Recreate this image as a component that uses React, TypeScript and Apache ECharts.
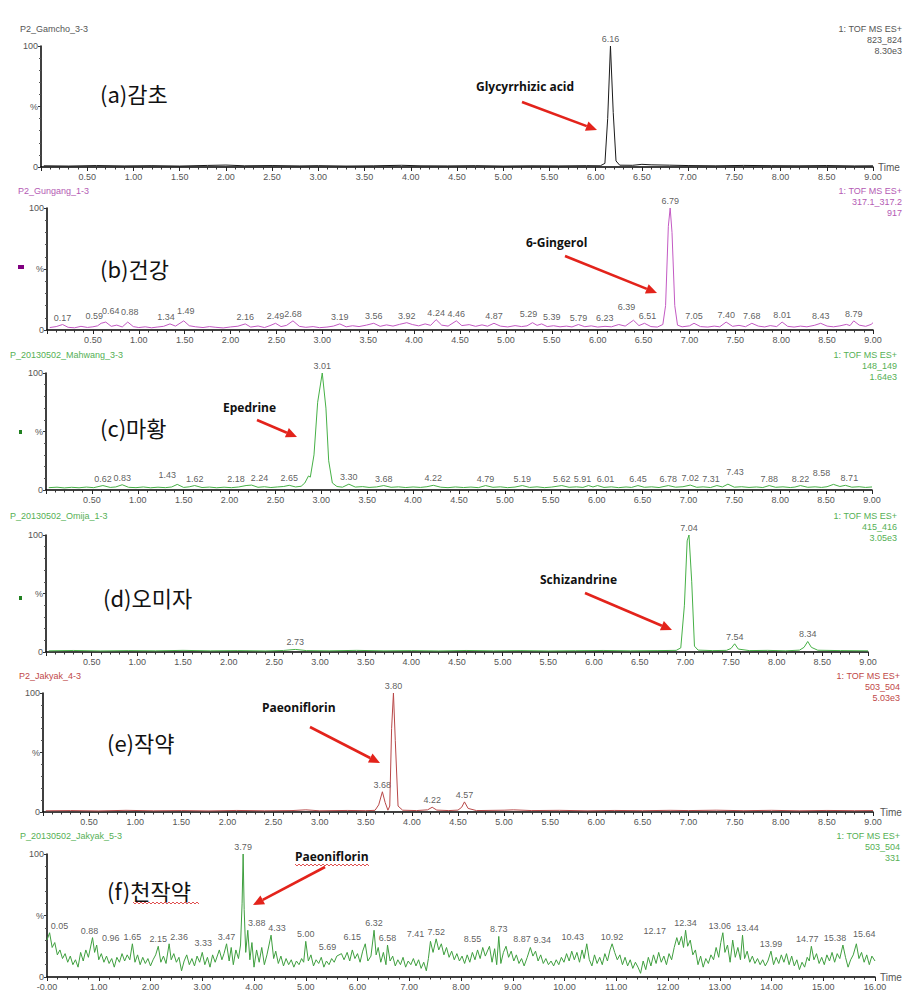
import React, { useEffect, useRef } from "react";
import * as echarts from "echarts";

type P = [number, number];

// ---------- DATA ----------
const gamchoTrace: P[] = [
  [0.03, 1.0], [0.3, 0.8], [0.6, 1.2], [0.9, 0.9], [1.2, 1.1], [1.5, 0.8], [1.8, 1.3], [2.0, 1.6], [2.2, 1.0],
  [2.5, 1.2], [2.8, 0.9], [3.0, 1.1], [3.3, 0.8], [3.6, 1.0], [3.9, 1.4], [4.1, 1.0], [4.4, 0.9], [4.7, 1.1],
  [5.0, 0.8], [5.3, 1.0], [5.6, 0.9], [5.9, 1.1], [6.05, 1.0], [6.1, 3], [6.13, 40], [6.16, 100], [6.19, 45],
  [6.22, 5], [6.26, 1.5], [6.4, 1.4], [6.5, 2.2], [6.6, 1.8], [6.8, 1.5], [7.0, 1.2], [7.3, 1.0], [7.6, 1.3],
  [7.9, 1.1], [8.2, 1.0], [8.5, 1.2], [8.8, 0.9], [9.0, 1.0],
];
const gamchoPeaks = [6.16];

const gungangTrace: P[] = [
  [0.03, 2.0], [0.1, 2.8], [0.17, 4.5], [0.23, 2.2], [0.3, 1.8], [0.37, 3.0], [0.44, 2.1], [0.5, 2.6], [0.55, 3.4],
  [0.59, 5.5], [0.64, 6.5], [0.7, 3.0], [0.76, 4.0], [0.82, 2.5], [0.88, 6.5], [0.94, 2.8], [1.0, 2.0], [1.07, 2.6],
  [1.14, 1.8], [1.2, 2.4], [1.27, 3.0], [1.34, 5.0], [1.4, 3.2], [1.49, 7.5], [1.55, 3.5], [1.62, 2.6], [1.7, 2.0],
  [1.77, 2.8], [1.84, 2.2], [1.92, 1.7], [2.0, 2.5], [2.08, 3.1], [2.16, 5.0], [2.22, 2.4], [2.3, 3.3], [2.37, 2.0],
  [2.43, 3.6], [2.49, 5.5], [2.55, 2.8], [2.61, 3.8], [2.68, 7.5], [2.75, 3.0], [2.82, 2.2], [2.9, 2.8], [2.97, 1.9],
  [3.05, 2.4], [3.12, 3.2], [3.19, 5.0], [3.26, 2.6], [3.33, 3.5], [3.4, 2.8], [3.48, 4.0], [3.56, 5.5], [3.63, 3.0],
  [3.7, 4.2], [3.77, 3.2], [3.84, 4.6], [3.92, 6.0], [3.98, 4.5], [4.05, 3.4], [4.12, 5.0], [4.18, 3.8], [4.24, 8.5],
  [4.3, 4.0], [4.37, 3.2], [4.46, 7.5], [4.52, 3.6], [4.6, 4.4], [4.67, 3.0], [4.74, 4.2], [4.8, 3.1], [4.87, 5.5],
  [4.94, 3.2], [5.02, 2.5], [5.1, 3.6], [5.17, 2.8], [5.23, 3.4], [5.29, 6.0], [5.34, 3.8], [5.39, 5.0], [5.45, 2.8],
  [5.52, 3.5], [5.59, 2.6], [5.66, 3.2], [5.72, 2.5], [5.79, 4.5], [5.86, 2.7], [5.93, 3.4], [6.0, 2.4], [6.08, 3.0],
  [6.15, 2.6], [6.23, 4.5], [6.3, 3.2], [6.39, 8.0], [6.45, 3.6], [6.51, 5.5], [6.58, 2.8], [6.65, 2.4], [6.71, 4.5],
  [6.74, 20], [6.77, 85], [6.79, 100], [6.81, 80], [6.84, 20], [6.87, 4], [6.92, 2.6], [7.0, 3.4], [7.05, 5.5],
  [7.12, 2.8], [7.2, 2.4], [7.27, 3.2], [7.33, 2.6], [7.4, 6.5], [7.47, 3.0], [7.54, 3.8], [7.61, 2.7], [7.68, 5.5],
  [7.75, 3.2], [7.82, 2.5], [7.88, 3.6], [7.95, 2.8], [8.01, 6.5], [8.07, 3.0], [8.14, 2.4], [8.21, 3.2], [8.28, 2.6],
  [8.36, 3.8], [8.43, 5.5], [8.5, 3.2], [8.57, 2.6], [8.64, 3.4], [8.71, 4.6], [8.75, 3.6], [8.79, 7.5], [8.85, 4.0],
  [8.92, 3.0], [8.98, 4.6], [9.0, 6.0],
];
const gungangPeaks = [0.17, 0.59, 0.64, 0.88, 1.34, 1.49, 2.16, 2.49, 2.68, 3.19, 3.56, 3.92, 4.24, 4.46, 4.87,
  5.29, 5.39, 5.79, 6.23, 6.39, 6.51, 6.79, 7.05, 7.4, 7.68, 8.01, 8.43, 8.79];

const mahwangTrace: P[] = [
  [0.03, 2.0], [0.12, 2.4], [0.2, 1.8], [0.28, 2.3], [0.36, 1.9], [0.44, 2.5], [0.52, 2.0], [0.62, 3.8], [0.7, 2.2],
  [0.76, 2.6], [0.83, 4.5], [0.9, 2.3], [0.98, 2.0], [1.06, 2.6], [1.14, 1.9], [1.22, 2.4], [1.3, 2.0], [1.37, 2.6],
  [1.43, 4.8], [1.5, 2.2], [1.56, 2.7], [1.62, 3.8], [1.7, 2.1], [1.78, 2.5], [1.86, 1.9], [1.94, 2.4], [2.02, 2.0],
  [2.1, 2.6], [2.18, 3.8], [2.24, 4.2], [2.31, 2.3], [2.38, 2.8], [2.45, 2.1], [2.52, 2.6], [2.59, 3.0], [2.65, 4.0],
  [2.72, 2.6], [2.78, 3.2], [2.82, 6], [2.86, 12], [2.88, 11], [2.92, 30], [2.96, 75], [3.01, 100], [3.05, 70],
  [3.08, 25], [3.12, 6], [3.17, 3.0], [3.23, 2.4], [3.3, 5.0], [3.37, 2.5], [3.45, 2.9], [3.52, 2.2], [3.6, 2.6],
  [3.68, 3.8], [3.76, 2.3], [3.84, 2.7], [3.92, 2.1], [4.0, 2.6], [4.08, 2.2], [4.15, 2.8], [4.22, 4.0], [4.3, 2.4],
  [4.38, 2.0], [4.46, 2.6], [4.55, 2.1], [4.63, 2.5], [4.71, 2.0], [4.79, 3.8], [4.87, 2.3], [4.95, 2.7], [5.03, 2.0],
  [5.11, 2.5], [5.19, 3.8], [5.27, 2.2], [5.35, 2.7], [5.43, 2.0], [5.51, 2.5], [5.62, 3.8], [5.7, 2.3], [5.78, 2.7],
  [5.85, 2.2], [5.91, 3.8], [5.96, 2.6], [6.01, 3.8], [6.08, 2.2], [6.16, 2.7], [6.24, 2.0], [6.32, 2.6], [6.38, 2.2],
  [6.45, 3.8], [6.52, 2.3], [6.6, 2.7], [6.68, 2.1], [6.78, 3.8], [6.86, 2.4], [6.94, 2.8], [7.02, 4.2], [7.09, 2.3],
  [7.16, 2.7], [7.24, 2.1], [7.31, 3.8], [7.37, 2.6], [7.43, 5.0], [7.5, 2.4], [7.58, 2.8], [7.66, 2.2], [7.74, 2.6],
  [7.81, 2.1], [7.88, 3.8], [7.95, 2.3], [8.03, 2.7], [8.11, 2.1], [8.16, 2.5], [8.22, 3.8], [8.3, 2.3], [8.38, 2.7],
  [8.45, 2.2], [8.51, 2.8], [8.58, 4.8], [8.65, 3.0], [8.71, 4.0], [8.78, 2.4], [8.86, 2.8], [8.93, 2.2], [9.0, 2.6],
];
const mahwangPeaks = [0.62, 0.83, 1.43, 1.62, 2.18, 2.24, 2.65, 3.01, 3.3, 3.68, 4.22, 4.79, 5.19, 5.62, 5.91,
  6.01, 6.45, 6.78, 7.02, 7.31, 7.43, 7.88, 8.22, 8.58, 8.71];

const omijaTrace: P[] = [
  [0.03, 1.0], [0.3, 1.3], [0.6, 0.9], [0.9, 1.2], [1.2, 1.0], [1.5, 1.4], [1.8, 1.0], [2.1, 1.2], [2.4, 0.9],
  [2.6, 1.3], [2.73, 2.2], [2.85, 1.2], [3.1, 1.0], [3.4, 1.4], [3.7, 1.0], [4.0, 1.2], [4.3, 0.9], [4.6, 1.3],
  [4.9, 1.0], [5.2, 1.2], [5.5, 0.9], [5.8, 1.1], [6.1, 1.3], [6.4, 1.0], [6.7, 1.2], [6.9, 1.4], [6.95, 3.5],
  [6.99, 40], [7.02, 95], [7.04, 100], [7.07, 60], [7.1, 5], [7.14, 1.6], [7.3, 1.2], [7.45, 1.4], [7.5, 3],
  [7.54, 7], [7.58, 2.5], [7.7, 1.2], [7.9, 1.4], [8.1, 1.0], [8.25, 1.6], [8.3, 4], [8.34, 9], [8.38, 4],
  [8.45, 1.5], [8.7, 1.2], [9.0, 1.0],
];
const omijaPeaks = [2.73, 7.04, 7.54, 8.34];

const jakyakTrace: P[] = [
  [0.03, 1.0], [0.3, 1.2], [0.6, 0.9], [0.9, 1.4], [1.2, 1.0], [1.5, 1.2], [1.8, 0.9], [2.1, 1.3], [2.4, 1.0],
  [2.7, 1.2], [2.85, 1.8], [3.0, 1.0], [3.3, 1.3], [3.5, 1.1], [3.6, 1.4], [3.64, 6], [3.68, 17], [3.71, 8],
  [3.74, 1.5], [3.76, 5], [3.78, 70], [3.8, 100], [3.82, 60], [3.85, 5], [3.9, 1.5], [4.05, 1.2], [4.17, 1.8],
  [4.22, 4], [4.27, 1.6], [4.4, 1.2], [4.5, 1.6], [4.54, 4], [4.57, 8.5], [4.61, 3], [4.7, 1.2], [5.0, 1.5],
  [5.1, 1.8], [5.3, 1.2], [5.6, 1.4], [5.9, 1.0], [6.2, 1.3], [6.5, 1.1], [6.8, 1.4], [7.0, 1.2], [7.3, 1.5],
  [7.6, 1.1], [7.9, 1.4], [8.2, 1.0], [8.5, 1.3], [8.8, 1.1], [9.0, 1.2],
];
const jakyakPeaks = [3.68, 3.8, 4.22, 4.57];

const cheonTrace: P[] = [
  [0.0, 30], [0.05, 36], [0.1, 24], [0.15, 28], [0.2, 18], [0.25, 22], [0.3, 15], [0.35, 19], [0.4, 12], [0.45, 17],
  [0.5, 10], [0.55, 14], [0.6, 8], [0.65, 20], [0.7, 13], [0.75, 22], [0.8, 16], [0.88, 32], [0.92, 20], [0.96, 26],
  [1.0, 14], [1.05, 19], [1.1, 12], [1.15, 17], [1.2, 11], [1.25, 15], [1.3, 8], [1.35, 16], [1.4, 12], [1.45, 19],
  [1.5, 13], [1.55, 18], [1.6, 14], [1.65, 27], [1.7, 12], [1.75, 18], [1.8, 10], [1.85, 16], [1.9, 11], [1.95, 15],
  [2.0, 9], [2.05, 14], [2.1, 18], [2.15, 25], [2.2, 12], [2.25, 17], [2.3, 11], [2.36, 27], [2.4, 14], [2.45, 19],
  [2.5, 12], [2.55, 16], [2.6, 5], [2.65, 13], [2.7, 18], [2.75, 10], [2.8, 15], [2.85, 9], [2.9, 17], [2.95, 12],
  [3.0, 20], [3.05, 10], [3.1, 16], [3.15, 8], [3.2, 18], [3.25, 12], [3.33, 22], [3.38, 14], [3.42, 19], [3.47, 27],
  [3.52, 13], [3.56, 24], [3.6, 10], [3.65, 22], [3.7, 15], [3.74, 26], [3.77, 60], [3.79, 100], [3.81, 55], [3.84, 20],
  [3.88, 38], [3.92, 14], [3.96, 28], [4.0, 8], [4.05, 22], [4.1, 12], [4.15, 24], [4.2, 10], [4.25, 18], [4.33, 34],
  [4.38, 15], [4.42, 21], [4.47, 11], [4.52, 17], [4.57, 9], [4.62, 15], [4.67, 10], [4.72, 14], [4.77, 8], [4.82, 13],
  [4.87, 10], [4.92, 15], [4.96, 12], [5.0, 29], [5.05, 13], [5.1, 18], [5.15, 9], [5.2, 14], [5.25, 11], [5.3, 16],
  [5.35, 8], [5.4, 13], [5.45, 10], [5.5, 15], [5.55, 12], [5.6, 17], [5.69, 19], [5.74, 14], [5.8, 20], [5.85, 13],
  [5.9, 22], [5.95, 15], [6.0, 19], [6.05, 12], [6.1, 21], [6.15, 27], [6.2, 13], [6.26, 17], [6.32, 38], [6.36, 18],
  [6.4, 24], [6.45, 12], [6.5, 20], [6.55, 10], [6.58, 26], [6.63, 13], [6.68, 17], [6.73, 9], [6.78, 14], [6.83, 10],
  [6.88, 16], [6.93, 8], [6.98, 13], [7.03, 10], [7.08, 15], [7.13, 9], [7.18, 14], [7.23, 7], [7.28, 12], [7.33, 5],
  [7.37, 15], [7.41, 29], [7.46, 20], [7.52, 31], [7.57, 22], [7.62, 27], [7.67, 18], [7.72, 24], [7.77, 16], [7.82, 21],
  [7.87, 14], [7.92, 19], [7.97, 13], [8.02, 17], [8.07, 11], [8.12, 18], [8.17, 12], [8.22, 20], [8.27, 14], [8.32, 22],
  [8.37, 15], [8.42, 24], [8.47, 17], [8.55, 25], [8.6, 12], [8.65, 23], [8.69, 10], [8.73, 33], [8.77, 11], [8.82, 20],
  [8.87, 25], [8.92, 16], [8.97, 21], [9.02, 13], [9.07, 18], [9.12, 11], [9.17, 15], [9.22, 9], [9.28, 16], [9.34, 24],
  [9.39, 17], [9.44, 21], [9.49, 13], [9.54, 18], [9.59, 11], [9.64, 15], [9.69, 10], [9.74, 13], [9.79, 9], [9.84, 14],
  [9.89, 10], [9.94, 16], [9.99, 12], [10.04, 19], [10.09, 13], [10.14, 21], [10.19, 14], [10.24, 20], [10.29, 12],
  [10.34, 22], [10.38, 15], [10.43, 27], [10.48, 14], [10.53, 9], [10.58, 18], [10.63, 11], [10.68, 16], [10.73, 10],
  [10.78, 19], [10.83, 13], [10.88, 22], [10.92, 27], [10.97, 20], [11.02, 14], [11.07, 18], [11.12, 10], [11.17, 16],
  [11.22, 9], [11.27, 14], [11.32, 7], [11.37, 12], [11.42, 8], [11.47, 3], [11.52, 13], [11.57, 6], [11.62, 16],
  [11.67, 9], [11.72, 18], [11.77, 11], [11.82, 20], [11.87, 12], [11.92, 17], [11.97, 10], [12.02, 19], [12.07, 14],
  [12.12, 24], [12.17, 32], [12.21, 26], [12.26, 33], [12.3, 24], [12.34, 38], [12.38, 25], [12.43, 30], [12.48, 18],
  [12.53, 22], [12.58, 10], [12.63, 17], [12.68, 8], [12.73, 15], [12.78, 11], [12.83, 18], [12.88, 14], [12.93, 24],
  [12.98, 16], [13.02, 28], [13.06, 36], [13.1, 20], [13.15, 26], [13.2, 12], [13.25, 30], [13.3, 16], [13.35, 24],
  [13.4, 14], [13.44, 34], [13.48, 15], [13.53, 21], [13.58, 12], [13.63, 17], [13.68, 11], [13.73, 15], [13.78, 10],
  [13.83, 14], [13.88, 9], [13.93, 13], [13.99, 21], [14.04, 10], [14.09, 16], [14.14, 11], [14.19, 18], [14.24, 12],
  [14.29, 19], [14.34, 10], [14.39, 17], [14.44, 9], [14.49, 14], [14.54, 6], [14.59, 12], [14.64, 8], [14.69, 16],
  [14.73, 13], [14.77, 25], [14.82, 14], [14.87, 19], [14.92, 11], [14.97, 16], [15.02, 10], [15.07, 18], [15.12, 13],
  [15.17, 20], [15.22, 12], [15.27, 19], [15.32, 15], [15.38, 26], [15.43, 16], [15.48, 8], [15.53, 14], [15.58, 18],
  [15.64, 27], [15.69, 15], [15.74, 20], [15.79, 12], [15.84, 18], [15.89, 10], [15.94, 17], [16.0, 13],
];
const cheonPeaks = [0.05, 0.88, 0.96, 1.65, 2.15, 2.36, 3.33, 3.47, 3.79, 3.88, 4.33, 5.0, 5.69, 6.15, 6.32, 6.58,
  7.41, 7.52, 8.55, 8.73, 8.87, 9.34, 10.43, 10.92, 12.17, 12.34, 13.06, 13.44, 13.99, 14.77, 15.38, 15.64];

const sampleNames = ["P2_Gamcho_3-3", "P2_Gungang_1-3", "P_20130502_Mahwang_3-3", "P_20130502_Omija_1-3", "P2_Jakyak_4-3", "P_20130502_Jakyak_5-3"];
const massRanges = ["823_824", "317.1_317.2", "148_149", "415_416", "503_504", "503_504"];
const intensities = ["8.30e3", "917", "1.64e3", "3.05e3", "5.03e3", "331"];
const herbLabels = ["(a)감초", "(b)건강", "(c)마황", "(d)오미자", "(e)작약", "(f)천작약"];
const compounds = ["Glycyrrhizic acid", "6-Gingerol", "Epedrine", "Schizandrine", "Paeoniflorin", "Paeoniflorin"];
const xMaxes = [9, 9, 9, 9, 9, 16];

// ---------- LAYOUT / STYLE ----------
const traces = [gamchoTrace, gungangTrace, mahwangTrace, omijaTrace, jakyakTrace, cheonTrace];
const peakLists = [gamchoPeaks, gungangPeaks, mahwangPeaks, omijaPeaks, jakyakPeaks, cheonPeaks];
const grids = [
  { left: 41, top: 46, width: 832, height: 121 },
  { left: 47, top: 208, width: 826, height: 122 },
  { left: 46, top: 373, width: 826, height: 117 },
  { left: 46, top: 535, width: 822, height: 117 },
  { left: 43, top: 693, width: 830, height: 119 },
  { left: 47, top: 854, width: 828, height: 123 },
];
// label nudges (pixels) for crowded peak labels: [panel, time, dx, dy]
const labelNudges: [number, number, number, number][] = [
  [1, 0.59, -7, 0], [1, 0.64, 5, -4], [1, 0.88, 2, -3], [1, 1.34, -4, 0], [1, 1.49, 2, -3],
  [1, 5.29, -4, -2], [1, 5.39, 10, 0], [1, 6.23, -14, 0], [1, 6.39, -7, -6], [1, 6.51, 3, 0],
  [2, 1.43, -10, -2], [2, 2.18, -10, 0], [2, 2.24, 8, 0], [2, 5.91, -6, 0], [2, 6.01, 8, 0],
  [2, 7.31, -6, 0], [2, 7.43, 7, -5], [2, 8.58, -12, -4], [2, 8.71, 4, 0],
  [5, 0.05, 10, 0], [5, 0.88, -3, 0], [5, 0.96, 14, 0], [5, 2.36, 10, 0], [5, 3.33, -16, 0], [5, 3.88, 9, 0],
  [5, 4.33, 6, 0], [5, 5.69, -14, 0], [5, 6.15, -13, 0], [5, 7.41, -15, 0], [5, 8.55, -17, 0], [5, 8.87, 16, 0],
  [5, 9.34, 12, 0], [5, 10.43, -14, 0], [5, 12.17, -22, 0], [5, 13.06, -3, 0], [5, 13.44, 5, 0],
  [5, 14.77, -4, 0], [5, 15.38, -8, 0], [5, 15.64, 8, -3],
];
const lineColors = ["#1a1a1a", "#c35ac3", "#46b046", "#46b046", "#b84848", "#3f9f3f"];
const textColors = ["#555555", "#b45ab4", "#55b055", "#55b055", "#c04848", "#55b055"];
const titleY = [29, 191, 355, 516, 676, 836];
const titleX = [20, 18, 10, 10, 19, 20];
const rightX = [902, 902, 897, 897, 900, 900];
const herbPos = [[100, 93], [100, 268], [100, 427], [103, 597], [107, 742], [107, 890]];
const compPos = [[476, 86], [526, 242], [223, 407], [540, 579], [262, 707], [295, 856]];
const arrows = [
  [522, 102, 597, 130],
  [565, 256, 657, 293],
  [257, 420, 297, 437],
  [585, 593, 672, 630],
  [310, 727, 380, 763],
  [325, 867, 253, 905],
];

const SANS = "'Liberation Sans', Arial, sans-serif";

function valueAt(trace: P[], t: number): number {
  let best = trace[0];
  for (const p of trace) if (Math.abs(p[0] - t) < Math.abs(best[0] - t)) best = p;
  return best[1];
}

function arrowEls(x1: number, y1: number, x2: number, y2: number) {
  const dx = x2 - x1, dy = y2 - y1;
  const len = Math.sqrt(dx * dx + dy * dy);
  const ux = dx / len, uy = dy / len;
  const hl = 11, hw = 5;
  const bx = x2 - ux * hl, by = y2 - uy * hl;
  const color = "#e3231b";
  return [
    { type: "line", shape: { x1, y1, x2: bx, y2: by }, style: { stroke: color, lineWidth: 2.6 }, silent: true },
    {
      type: "polygon",
      shape: { points: [[x2, y2], [bx - uy * hw, by + ux * hw], [bx + uy * hw, by - ux * hw]] },
      style: { fill: color },
      silent: true,
    },
  ];
}

function wavy(x1: number, x2: number, y: number) {
  const pts: number[][] = [];
  let k = 0;
  for (let x = x1; x <= x2; x += 2) {
    pts.push([x, y + (k % 2 === 0 ? 0 : 2)]);
    k++;
  }
  return { type: "polyline", shape: { points: pts }, style: { stroke: "#e05050", lineWidth: 1, fill: null }, silent: true };
}

function text(x: number, y: number, t: string, extra: any) {
  return {
    type: "text",
    silent: true,
    style: {
      x, y, text: t,
      fontFamily: SANS, fontSize: 9, fill: "#555",
      textAlign: "left", align: "left",
      textVerticalAlign: "middle", verticalAlign: "middle",
      ...extra,
    },
  };
}

export default function App() {
  const ref = useRef<HTMLDivElement>(null);
  useEffect(() => {
    if (!ref.current) return;
    const chart = echarts.init(ref.current, null, { renderer: "svg" });

    const gridOpt = grids.map((g) => ({ ...g, containLabel: false }));
    const xAxes = grids.map((_, i) => ({
      type: "value",
      gridIndex: i,
      min: 0,
      max: xMaxes[i],
      interval: xMaxes[i] > 10 ? 1 : 0.5,
      axisLine: { show: true, onZero: false, lineStyle: { color: "#000", width: 1.5 } },
      axisTick: { show: true, length: 4, lineStyle: { color: "#222", width: 1 } },
      minorTick: { show: true, splitNumber: 5, length: 2.5, lineStyle: { color: "#333", width: 1 } },
      splitLine: { show: false },
      axisLabel: {
        show: true,
        margin: 5,
        fontSize: 9,
        color: "#555",
        fontFamily: SANS,
        showMinLabel: true,
        showMaxLabel: true,
        formatter: (v: number) => (v === 0 ? (i === 5 ? "-0.00" : "") : v.toFixed(2)),
      },
    }));
    const yAxes = grids.map((_, i) => ({
      type: "value",
      gridIndex: i,
      min: 0,
      max: 100,
      interval: 50,
      axisLine: { show: true, lineStyle: { color: "#000", width: 1.5 } },
      axisTick: { show: true, length: 3, lineStyle: { color: "#333" } },
      minorTick: { show: true, splitNumber: 5, length: 2, lineStyle: { color: "#555" } },
      splitLine: { show: false },
      axisLabel: {
        margin: 3,
        fontSize: 9,
        color: "#555",
        fontFamily: SANS,
        formatter: (v: number) => (v === 50 ? "%" : String(v)),
      },
    }));

    const series: any[] = [];
    traces.forEach((tr, i) => {
      series.push({
        type: "line",
        xAxisIndex: i,
        yAxisIndex: i,
        data: tr,
        symbol: "none",
        showSymbol: false,
        silent: true,
        lineStyle: { color: lineColors[i], width: 1 },
      });
      series.push({
        type: "scatter",
        xAxisIndex: i,
        yAxisIndex: i,
        data: peakLists[i].map((t) => {
          const nudge = labelNudges.find((n) => n[0] === i && Math.abs(n[1] - t) < 1e-6);
          const item: any = { value: [t, valueAt(tr, t)] };
          if (nudge) item.label = { offset: [nudge[2], nudge[3]] };
          return item;
        }),
        symbolSize: 1,
        itemStyle: { color: "rgba(0,0,0,0)" },
        silent: true,
        label: {
          show: true,
          position: "top",
          distance: 2,
          fontSize: 9,
          color: "#333",
          fontFamily: SANS,
          formatter: (p: any) => p.value[0].toFixed(2),
        },
      });
    });

    const graphic: any[] = [];
    grids.forEach((g, i) => {
      graphic.push(text(titleX[i], titleY[i], sampleNames[i], { fill: textColors[i] }));
      const rx = rightX[i];
      graphic.push(text(rx, titleY[i], "1: TOF MS ES+", { fill: textColors[i], textAlign: "right", align: "right" }));
      graphic.push(text(rx, titleY[i] + 11, massRanges[i], { fill: textColors[i], textAlign: "right", align: "right" }));
      graphic.push(text(rx, titleY[i] + 22, intensities[i], { fill: textColors[i], textAlign: "right", align: "right" }));
      graphic.push(
        text(herbPos[i][0], herbPos[i][1], herbLabels[i], {
          fontFamily: "'Noto Sans CJK KR', sans-serif",
          fontSize: 22,
          fill: "#111",
        })
      );
      graphic.push(
        text(compPos[i][0], compPos[i][1], compounds[i], {
          fontFamily: "'Open Sans', 'Noto Sans', sans-serif",
          fontSize: 12,
          fontWeight: "bold",
          fill: "#111",
        })
      );
      const a = arrows[i];
      graphic.push(...arrowEls(a[0], a[1], a[2], a[3]));
    });
    [[878, 167], [880, 812], [880, 977]].forEach(([x, y]) => graphic.push(text(x, y, "Time", { fontSize: 10 })));
    graphic.push(wavy(295, 370, 864));
    graphic.push(wavy(133, 200, 902));
    graphic.push({ type: "rect", shape: { x: 18, y: 265, width: 6, height: 4 }, style: { fill: "#800080" }, silent: true });
    graphic.push({ type: "rect", shape: { x: 19, y: 430, width: 3, height: 4 }, style: { fill: "#208020" }, silent: true });
    graphic.push({ type: "rect", shape: { x: 19, y: 596, width: 3, height: 4 }, style: { fill: "#208020" }, silent: true });

    chart.setOption({
      animation: false,
      backgroundColor: "#ffffff",
      textStyle: { fontFamily: SANS },
      grid: gridOpt,
      xAxis: xAxes,
      yAxis: yAxes,
      series,
      graphic,
    });
    return () => chart.dispose();
  }, []);

  return (
    <div
      ref={ref}
      style={{ position: "absolute", left: 0, top: 0, width: 913, height: 1000, background: "#fff" }}
    />
  );
}
